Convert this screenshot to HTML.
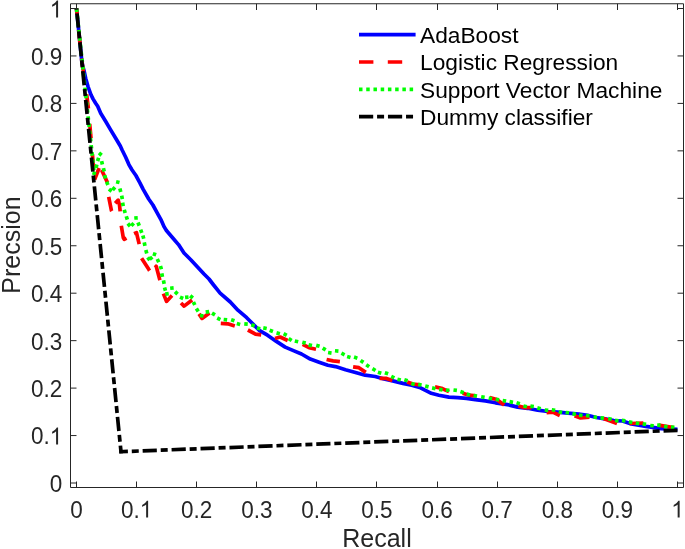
<!DOCTYPE html>
<html><head><meta charset="utf-8"><style>
html,body{margin:0;padding:0;background:#fff;}
svg{display:block;will-change:transform;}
text{font-family:"Liberation Sans", sans-serif;font-variant-ligatures:none;}
</style></head><body>
<svg width="685" height="549" viewBox="0 0 685 549">
<rect width="685" height="549" fill="#fff"/>
<g fill="none" stroke-linejoin="round" stroke-width="3.7">
<polyline points="76.5,8.5 81.9,62.0 83.0,67.0 84.3,71.8 85.7,78.4 88.0,86.6 91.0,94.8 93.0,98.9 95.5,103.0 97.7,106.2 100.7,113.2 105.6,121.2 110.5,129.6 115.4,137.8 120.3,146.0 122.0,149.8 125.7,157.3 128.9,164.6 131.9,169.7 135.9,175.5 139.9,182.8 143.2,189.3 148.7,199.0 152.9,205.0 156.9,212.3 160.9,219.6 164.2,226.9 166.4,230.5 172.6,237.8 178.5,244.6 184.0,253.0 191.0,260.0 197.5,267.0 204.0,274.0 209.0,279.0 213.6,285.0 220.1,293.1 230.3,302.0 237.9,310.2 246.7,317.7 253.0,324.0 259.2,330.3 267.5,335.2 276.4,341.4 285.2,347.1 294.0,350.9 301.5,354.0 310.3,359.1 319.1,362.2 327.9,365.3 335.5,366.6 345.5,369.7 356.4,372.7 365.2,375.2 375.2,376.5 384.0,379.0 392.8,380.9 402.9,383.4 411.7,385.3 420.5,387.8 425.0,390.2 431.3,393.3 438.9,395.2 448.9,397.1 457.7,397.7 466.5,398.4 475.3,399.6 485.4,400.9 495.5,402.8 507.5,404.6 517.6,407.1 527.7,408.3 537.7,410.2 547.8,411.5 557.9,412.1 567.9,413.2 578.8,414.0 587.5,415.3 596.3,417.5 605.0,418.8 613.8,420.6 622.5,421.0 630.0,423.6 645.9,426.4 661.2,428.7 677.5,429.3" stroke="#0000ff"/>
<g stroke="#ff0000"><polyline points="76.5,8.5 77.1,14.3"/><polyline points="78.6,29.9 80.1,44.2"/><polyline points="81.5,58.5 83.5,72.5"/><polyline points="86.6,94.2 88.4,108.6"/><polyline points="89.7,123.8 91.0,138.2"/><polyline points="92.4,154.2 93.6,168.5"/><polyline points="94.6,179.5 99.1,168.0"/><polyline points="101.6,170.0 107.5,182.6"/><polyline points="108.7,196.8 111.4,210.5 111.8,211.2"/><polyline points="115.2,203.2 118.2,200.1 119.5,205.1 120.2,211.4"/><polyline points="121.3,225.8 123.3,237.8 124.2,239.3 126.5,238.1"/><polyline points="134.0,233.6 136.5,232.6 137.7,237.8 139.2,244.2"/><polyline points="141.6,258.3 148.9,269.6 149.6,270.6"/><polyline points="155.3,267.6 156.2,266.2 159.6,279.0 160.0,280.2"/><polyline points="163.4,293.6 166.5,301.4 172.0,295.6"/><polyline points="181.0,303.0 184.1,306.1 192.1,300.0"/><polyline points="199.0,313.9 202.0,318.4 209.5,312.9"/><polyline points="220.8,323.3 227.8,323.8 234.8,326.1"/><polyline points="247.9,330.0 255.5,334.1 261.2,334.8"/><polyline points="275.0,338.5 280.1,337.0 287.7,340.5"/><polyline points="302.7,344.3 309.1,347.7 316.0,349.2"/><polyline points="326.6,359.5 333.0,360.9 339.9,361.7"/><polyline points="353.1,366.8 358.9,367.7 365.8,372.4"/><polyline points="379.6,378.4 386.5,378.4 392.3,380.5"/><polyline points="407.2,382.0 413.0,384.0 419.9,384.8"/><polyline points="435.0,386.9 441.4,388.3 449.0,391.6"/><polyline points="462.7,393.2 469.1,395.2 476.0,395.9"/><polyline points="489.7,397.5 496.7,399.6 504.2,405.1"/><polyline points="518.5,406.0 525.2,407.7 531.5,407.7"/><polyline points="546.6,412.6 552.8,412.1 559.8,415.5"/><polyline points="574.6,415.7 580.5,418.0 589.4,417.1"/><polyline points="603.5,418.6 617.0,423.4"/><polyline points="629.6,423.5 643.4,423.0"/><polyline points="658.5,425.1 673.5,427.6"/></g>
<polyline points="76.5,8.5 94.2,173.3" stroke="#00ff00" stroke-dasharray="3.5 3.73"/><path d="M93.68 174.97L94.72 171.63M95.93 167.98L96.87 164.62M97.57 161.07L98.63 157.73M98.98 152.95L101.62 155.25M101.62 161.09L102.38 164.51M103.42 168.09L104.18 171.51M104.66 175.11L105.54 178.49M106.67 181.77L107.93 185.03M108.93 189.11L111.67 191.29M112.61 189.88L114.99 187.32M116.10 181.68L119.50 182.52M119.84 188.51L120.76 191.89M121.68 195.68L122.32 199.12M122.57 202.68L123.23 206.12M124.21 209.72L125.19 213.08M126.27 216.23L127.33 219.57M127.86 223.58L130.14 226.22M131.26 225.74L133.74 223.26M134.25 218.01L137.75 217.79M137.97 222.47L139.23 225.73M140.61 229.65L141.79 232.95M142.85 235.41L143.75 238.79M144.25 242.49L144.95 245.91M145.83 250.12L146.77 253.48M147.66 257.39L149.74 260.21M149.63 259.29L152.37 257.11M152.84 253.63L156.16 254.77M157.25 259.02L158.75 262.18M160.42 265.92L161.38 269.28M161.76 273.38L162.44 276.82M163.45 280.39L164.15 283.81M164.54 287.41L165.46 290.79M165.27 294.05L168.73 293.55M170.16 288.27L173.64 287.93M175.06 291.66L177.54 294.14M179.99 297.12L183.21 298.48M185.06 297.46L188.54 297.14M190.17 295.77L192.83 298.03M193.39 301.90L194.81 305.10M196.37 308.51L198.23 311.49M199.98 315.39L203.42 316.01M205.67 312.05L209.13 311.55M212.01 313.08L214.99 314.92M217.22 318.04L220.38 319.56M223.66 319.51L227.14 319.89M231.14 319.75L234.46 320.85M236.81 323.53L240.19 324.47M244.26 323.84L247.74 324.16M251.35 324.72L254.65 325.88M256.90 327.99L260.30 328.81M263.28 327.88L266.72 328.52M269.67 330.17L272.93 331.43M276.51 332.85L279.89 333.75M283.65 333.69L286.75 335.31M288.71 338.69L291.69 340.51M294.79 341.02L298.21 341.78M302.31 342.24L305.69 343.16M308.59 344.82L312.01 345.58M316.21 345.34L319.59 346.26M322.69 348.11L325.71 349.89M328.07 352.54L331.53 353.06M334.96 350.74L338.44 351.06M341.44 353.21L344.56 354.79M347.12 356.52L350.48 357.48M354.04 357.05L357.36 358.15M360.56 360.41L363.44 362.39M366.26 364.81L369.14 366.79M372.49 368.72L375.51 370.48M377.92 372.20L381.28 373.20M384.84 372.75L388.16 373.85M391.23 376.32L394.37 377.88M397.40 379.19L400.80 380.01M404.33 379.77L407.67 380.83M411.33 383.47L414.67 384.53M418.18 384.40L421.62 385.00M425.21 385.96L428.59 386.84M432.09 387.91L435.51 388.69M439.07 389.36L442.53 389.84M445.95 390.13L449.45 390.27M453.47 389.97L456.93 390.43M460.44 391.55L463.76 392.65M466.71 394.13L470.09 395.07M473.58 395.50L477.02 396.10M481.18 396.80L484.62 397.40M488.68 398.10L492.12 398.70M495.68 399.30L499.12 399.90M502.68 400.50L506.12 401.10M509.58 401.69L513.02 402.31M516.53 402.77L519.87 403.83M523.49 406.02L526.91 406.78M530.37 406.16L533.83 406.64M537.31 407.85L540.69 408.75M544.76 410.00L548.24 410.40M551.77 409.76L555.23 410.24M558.68 411.76L562.12 412.44M565.57 412.46L569.03 412.94M572.48 413.67L575.92 414.33M579.06 415.08L582.54 415.52M585.96 415.47L589.44 415.93M593.57 416.93L597.03 417.47M600.46 417.79L603.94 418.21M608.18 418.69L611.62 419.31M615.06 420.40L618.54 420.80M621.96 420.41L625.44 420.79M628.88 421.76L632.32 422.44M635.77 423.05L639.23 423.55M642.67 423.83L646.13 424.37M650.26 425.47L653.74 425.73M657.16 425.06L660.64 425.34M664.07 426.45L667.53 426.95M670.95 427.07L674.45 427.33" stroke="#00ff00"/>
<g stroke="#000" stroke-dasharray="14.2 3.88 7 3.88"><polyline points="76.5,8.5 121.17,453.44" stroke-dashoffset="24"/><polyline points="119.25,451.77 677.5,430.3" stroke-dashoffset="5.55"/></g>
</g>
<g fill="none" stroke="#262626" stroke-width="1">
<path d="M70.5 3.75H683.5V487.5H70.5Z"/>
<path d="M76.5 487.5V481.5M76.5 3.75V10M70.5 483.00H76.5M683.5 483.00H677.5M136.5 487.5V481.5M136.5 3.75V10M70.5 435.55H76.5M683.5 435.55H677.5M196.5 487.5V481.5M196.5 3.75V10M70.5 388.10H76.5M683.5 388.10H677.5M256.5 487.5V481.5M256.5 3.75V10M70.5 340.65H76.5M683.5 340.65H677.5M316.5 487.5V481.5M316.5 3.75V10M70.5 293.20H76.5M683.5 293.20H677.5M376.5 487.5V481.5M376.5 3.75V10M70.5 245.75H76.5M683.5 245.75H677.5M437.5 487.5V481.5M437.5 3.75V10M70.5 198.30H76.5M683.5 198.30H677.5M497.5 487.5V481.5M497.5 3.75V10M70.5 150.85H76.5M683.5 150.85H677.5M557.5 487.5V481.5M557.5 3.75V10M70.5 103.40H76.5M683.5 103.40H677.5M617.5 487.5V481.5M617.5 3.75V10M70.5 55.95H76.5M683.5 55.95H677.5M677.5 487.5V481.5M677.5 3.75V10M70.5 8.50H76.5M683.5 8.50H677.5"/>
</g>
<g fill="#262626" font-size="22.5">
<text transform="translate(70.25,517.60) scale(1,1.045)">0</text><text transform="translate(120.96,517.60) scale(1,1.045)">0.</text><path transform="translate(139.73,517.60) scale(0.01099,-0.01148)" d="M763,0L583,0L583,1147Q518,1085 415,1024Q312,963 222,930L222,1104Q375,1176 488,1277Q602,1379 650,1472L763,1472Z"/><text transform="translate(181.06,517.60) scale(1,1.045)">0.2</text><text transform="translate(241.16,517.60) scale(1,1.045)">0.3</text><text transform="translate(301.26,517.60) scale(1,1.045)">0.4</text><text transform="translate(361.36,517.60) scale(1,1.045)">0.5</text><text transform="translate(421.46,517.60) scale(1,1.045)">0.6</text><text transform="translate(481.56,517.60) scale(1,1.045)">0.7</text><text transform="translate(541.66,517.60) scale(1,1.045)">0.8</text><text transform="translate(601.76,517.60) scale(1,1.045)">0.9</text><path transform="translate(671.25,517.60) scale(0.01099,-0.01148)" d="M763,0L583,0L583,1147Q518,1085 415,1024Q312,963 222,930L222,1104Q375,1176 488,1277Q602,1379 650,1472L763,1472Z"/>
<text transform="translate(49.69,491.90) scale(1,1.045)">0</text><text transform="translate(30.93,444.45) scale(1,1.045)">0.</text><path transform="translate(49.69,444.45) scale(0.01099,-0.01148)" d="M763,0L583,0L583,1147Q518,1085 415,1024Q312,963 222,930L222,1104Q375,1176 488,1277Q602,1379 650,1472L763,1472Z"/><text transform="translate(30.93,397.00) scale(1,1.045)">0.2</text><text transform="translate(30.93,349.55) scale(1,1.045)">0.3</text><text transform="translate(30.93,302.10) scale(1,1.045)">0.4</text><text transform="translate(30.93,254.65) scale(1,1.045)">0.5</text><text transform="translate(30.93,207.20) scale(1,1.045)">0.6</text><text transform="translate(30.93,159.75) scale(1,1.045)">0.7</text><text transform="translate(30.93,112.30) scale(1,1.045)">0.8</text><text transform="translate(30.93,64.85) scale(1,1.045)">0.9</text><path transform="translate(49.69,17.40) scale(0.01099,-0.01148)" d="M763,0L583,0L583,1147Q518,1085 415,1024Q312,963 222,930L222,1104Q375,1176 488,1277Q602,1379 650,1472L763,1472Z"/>
</g>
<text x="377" y="547" text-anchor="middle" font-size="25" fill="#262626">Recall</text>
<text transform="translate(19.9,245) rotate(-90)" text-anchor="middle" font-size="25" fill="#262626">Precsion</text>
<g stroke-width="3.7" fill="none">
<path d="M359 34.7H415.6" stroke="#0000ff"/>
<path d="M359 62H415.6" stroke="#ff0000" stroke-dasharray="14.4 14.4"/>
<path d="M359 89.3H415.6" stroke="#00ff00" stroke-dasharray="3.5 3.73"/>
<path d="M359 116.6H415.6" stroke="#000" stroke-dasharray="14.2 3.88 7 3.88"/>
</g>
<g font-size="22.72" fill="#000">
<text transform="translate(420,42.9) scale(1,1.01)">AdaBoost</text><text transform="translate(420,70.2) scale(1,1.01)">Logistic Regression</text><text transform="translate(420,97.6) scale(1,1.01)">Support Vector Machine</text><text transform="translate(420,124.9) scale(1,1.01)">Dummy classifier</text>
</g>
</svg>
</body></html>
